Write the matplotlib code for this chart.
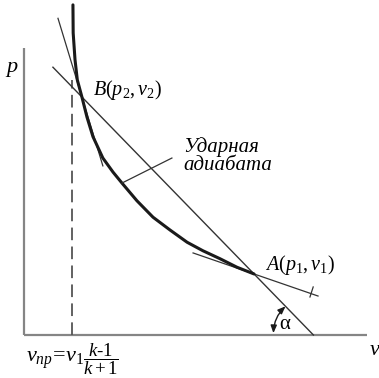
"""
p-v diagram of a shock wave: shock adiabat (Hugoniot) through the initial
state A and the shocked state B, Rayleigh line AB and the limiting volume.
"""

import numpy as np
import matplotlib.pyplot as plt

plt.rcParams['font.family'] = ['Liberation Serif', 'DejaVu Serif']
plt.rcParams['mathtext.fontset'] = 'custom'
plt.rcParams['mathtext.rm'] = 'Liberation Serif'
plt.rcParams['mathtext.it'] = 'Liberation Serif:italic'
plt.rcParams['mathtext.bf'] = 'Liberation Serif:bold'

# states (v in units of v1, p in units of p1)
v1, p1 = 1.0, 1.0          # A, before the shock
v2, p2 = 0.252, 3.90       # B, behind the shock
v_lim = 0.209              # v1 (k-1)/(k+1)

# shock adiabat, read point by point
adiabat_v = [0.213, 0.214, 0.222, 0.232, 0.252, 0.274, 0.300, 0.343, 0.387,
             0.426, 0.491, 0.561, 0.635, 0.709, 0.778, 0.852, 0.926, 1.0]
adiabat_p = [5.41, 4.95, 4.51, 4.18, 3.90, 3.57, 3.25, 2.90, 2.67,
             2.49, 2.20, 1.93, 1.72, 1.52, 1.38, 1.25, 1.11, 1.0]

# tangents at B and A: slope dp/dv and v-range
tan_b_slope, tan_b_range = -12.4, (0.148, 0.343)
tan_a_slope, tan_a_range = -1.30, (0.735, 1.278)

ray_v_start = 0.126        # Rayleigh line drawn from here down to p = 0

XLIM = (-0.104, 1.543)
YLIM = (-0.705, 5.49)
W_PX, H_PX = 379, 378

fig = plt.figure(figsize=(W_PX / 100, H_PX / 100), dpi=100)
ax = fig.add_axes([0, 0, 1, 1])
ax.set_xlim(*XLIM)
ax.set_ylim(*YLIM)
ax.axis('off')

# pixels per data unit (axes fill the whole figure)
sx = W_PX / (XLIM[1] - XLIM[0])
sy = H_PX / (YLIM[1] - YLIM[0])

ink = '#1a1a1a'
thin = '#333333'
grey = '#858585'

# coordinate axes
ax.plot([0, 0], [0, 4.70], color=grey, lw=1.6, solid_capstyle='butt')
ax.plot([0, 1.49], [0, 0], color=grey, lw=1.6, solid_capstyle='butt')
ax.text(-0.052, 4.39, 'p', fontsize=16, style='italic', ha='center', va='center')
ax.text(1.526, -0.25, 'v', fontsize=16, style='italic', ha='center', va='center')

# limiting volume
ax.plot([v_lim, v_lim], [0, 4.18], color='#555555', lw=1.3,
        dashes=(7, 3.5))

# Rayleigh line through B and A
ray_slope = (p2 - p1) / (v2 - v1)
v_axis = v1 - p1 / ray_slope
ray_v = np.array([ray_v_start, v_axis])
ax.plot(ray_v, p1 + ray_slope * (ray_v - v1), color=thin, lw=1.0)

# tangents
tb = np.array(tan_b_range)
ax.plot(tb, p2 + tan_b_slope * (tb - v2), color=thin, lw=0.9)
ta = np.array(tan_a_range)
ax.plot(ta, p1 + tan_a_slope * (ta - v1), color=thin, lw=0.9)
ax.plot([1.243, 1.257], [0.623, 0.787], color=thin, lw=0.9)

# shock adiabat
ax.plot(adiabat_v, adiabat_p, color=ink, lw=2.2, solid_joinstyle='round',
        solid_capstyle='round')

# leader to the label
ax.plot([0.426, 0.643], [2.49, 2.90], color=thin, lw=0.9)
ax.text(0.693, 3.08, 'Ударная', fontsize=15, style='italic', ha='left',
        va='center')
ax.text(0.691, 2.77, 'адиабата', fontsize=15, style='italic', ha='left',
        va='center')

# point labels
ax.text(0.30, 4.02, r'$B(p_2,v_2)$', fontsize=14.5, ha='left', va='center')
ax.text(1.048, 1.15, r'$A(p_1,v_1)$', fontsize=14.5, ha='left', va='center')

# angle between Rayleigh line and v axis
r_px = 40
ang = np.pi - np.arctan(-ray_slope * sy / sx)
start = (v_axis - r_px / sx, 0.03)
end = (v_axis + r_px * np.cos(ang) / sx, r_px * np.sin(ang) / sy)
ax.annotate('', xy=end, xytext=start,
            arrowprops=dict(arrowstyle='<|-|>,head_length=0.45,head_width=0.18',
                            connectionstyle='arc3,rad=-0.2', color=ink,
                            lw=1.0, shrinkA=0, shrinkB=0))
ax.text(1.135, 0.164, r'$\mathrm{\alpha}$', fontsize=15, ha='center',
        va='center')

# limiting volume formula
ax.text(0.261, -0.443, r'$v_{пр}\!=\!v_1$', fontsize=16, ha='right',
        va='baseline')
ax.text(0.258, -0.393, r'$\dfrac{k\text{-}1}{k+1}$', fontsize=13.5,
        ha='left', va='center')

fig.savefig('out.png', dpi=100)
